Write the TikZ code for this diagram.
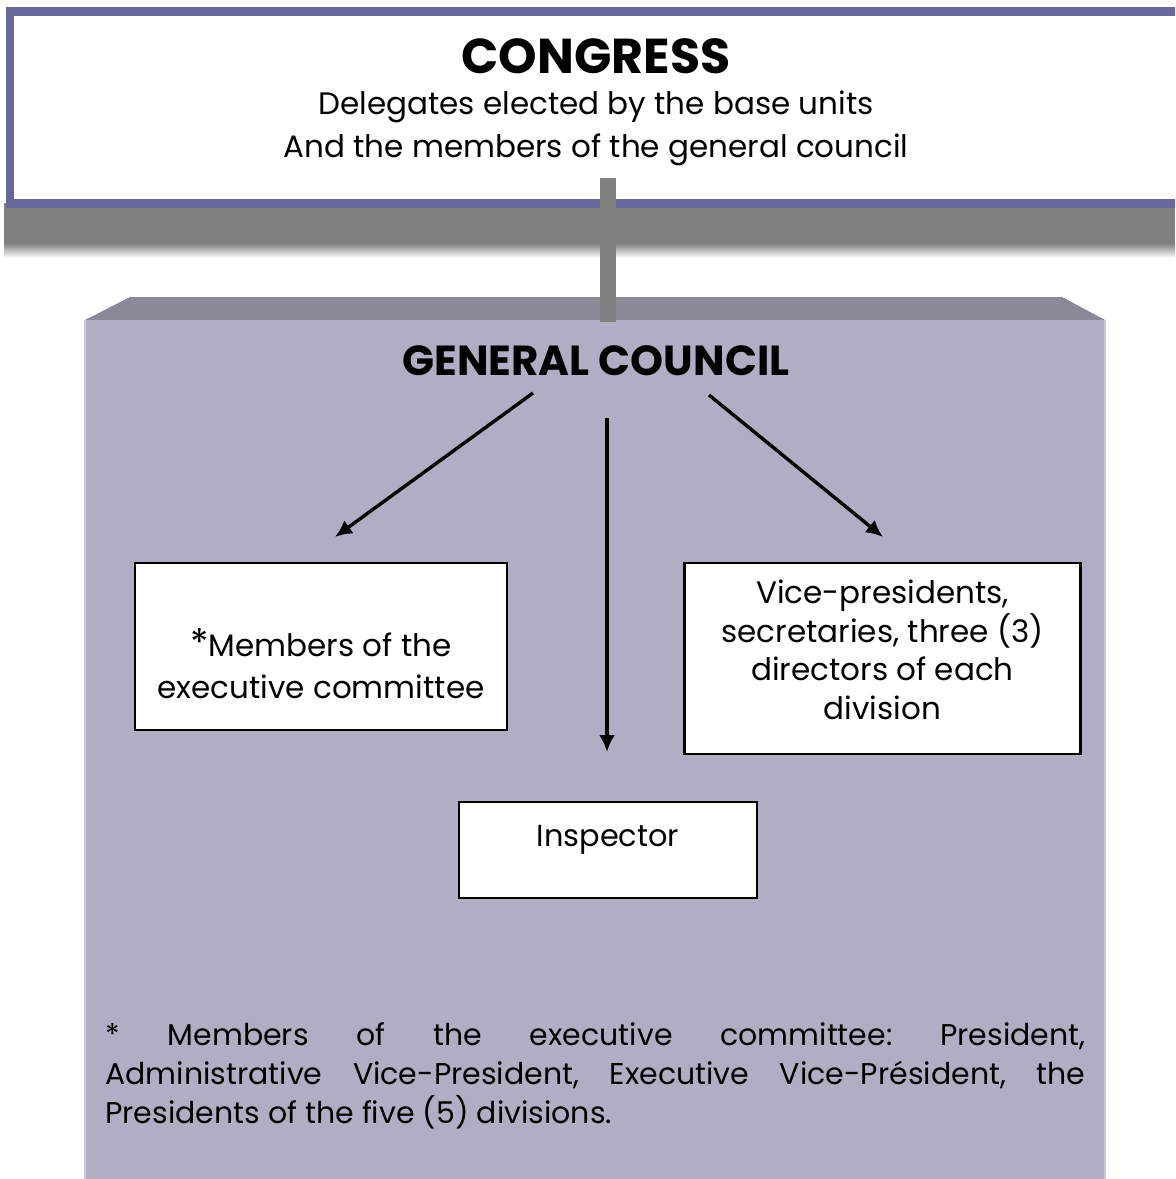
\documentclass[tikz,border=0pt]{standalone}
\usepackage{fontspec}
\setmainfont{Poppins}
\usetikzlibrary{arrows.meta}
\definecolor{rim}{RGB}{103,104,153}
\definecolor{lid}{RGB}{138,136,153}
\definecolor{face}{RGB}{175,174,195}
\definecolor{edge}{RGB}{200,200,222}
\tikzset{
  unitbox/.style={draw=black, fill=white, line width=1.2pt, inner sep=0pt, align=center, font=\fontsize{15.5}{21}\selectfont},
  flow/.style={line width=1.7pt, -{Latex[length=8.5pt,width=8pt]}},
  link/.style={draw=gray, line width=8pt},
}
\begin{document}
\frenchspacing
\begin{tikzpicture}[x=0.5pt, y=-0.5pt]
\useasboundingbox (0,0) rectangle (1175,1179);
\clip (0,0) rectangle (1175,1179);
\fill[gray] (4,203) rectangle (1175,243);
\shade[top color=gray, bottom color=white] (4,243) rectangle (1175,258);
\node[draw=rim, fill=white, line width=4.4pt, inner sep=0pt, minimum width=586pt, text height=73pt, text depth=23pt, anchor=north, align=center, font=\fontsize{15.5}{21.5}\selectfont] (congress) at (596,7)
  {{\fontsize{24.5}{26}\selectfont\bfseries CONGRESS}\\[-1pt]
   Delegates elected by the base units\\
   And the members of the general council};
\fill[lid] (130,297) -- (1062,297) -- (1105,320) -- (85,320) -- cycle;
\fill[face] (85,320) rectangle (1105,1185);
\draw[edge, line width=1pt] (85,320) -- (85,1179);
\draw[edge, line width=1pt] (1105,320) -- (1105,1179);
\coordinate (bartop) at (608,178);
\coordinate (barbot) at (608,322);
\draw[link] (bartop) -- (barbot);
\node[anchor=base, font=\fontsize{21}{24}\selectfont\bfseries] (council) at (596,375) {GENERAL COUNCIL};
\node[unitbox, minimum width=186pt, text height=67.5pt, text depth=16pt, anchor=north] (exec) at (321,562)
  {{\fontsize{19}{19}\selectfont*}Members of the\\executive committee};
\node[unitbox, minimum width=198pt, text height=78pt, text depth=17.5pt, anchor=north, font=\fontsize{15.5}{19.25}\selectfont] (staff) at (882.5,562)
  {Vice-presidents,\\secretaries, three (3)\\directors of each\\division};
\node[unitbox, minimum width=149pt, text height=22pt, text depth=26pt, anchor=north, font=\fontsize{15.2}{19}\selectfont] (insp) at (608,801) {Inspector};
\coordinate (gcW) at (533,393);
\coordinate (gcS) at (607,418);
\coordinate (gcE) at (709,395);
\coordinate (execTip) at (335,537);
\coordinate (inspTip) at (607,752);
\coordinate (staffTip) at (883,537);
\draw[flow] (gcW) -- (execTip);
\draw[flow] (gcS) -- (inspTip);
\draw[flow] (gcE) -- (staffTip);
\node[anchor=base west, inner sep=0pt, text width=490pt, align=justify, font=\fontsize{15}{19.5}\selectfont] (note) at (105,1045)
  {* Members of the executive committee: President,\linebreak
   Administrative Vice-President, Executive Vice-Président, the\linebreak
   Presidents of the five (5) divisions.};
\end{tikzpicture}
\end{document}
